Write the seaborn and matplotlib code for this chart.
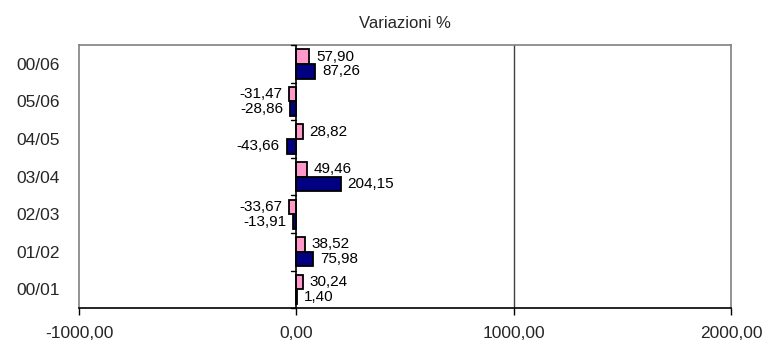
import pandas as pd
import matplotlib
matplotlib.use("Agg")
import matplotlib.pyplot as plt
import seaborn as sns

# periods, top to bottom as in the chart
periodi = ["00/06", "05/06", "04/05", "03/04", "02/03", "01/02", "00/01"]
serie_rosa = [57.90, -31.47, 28.82, 49.46, -33.67, 38.52, 30.24]
serie_blu = [87.26, -28.86, -43.66, 204.15, -13.91, 75.98, 1.40]
x_ticks = [-1000, 0, 1000, 2000]

df = pd.DataFrame({
    "periodo": periodi * 2,
    "serie": ["rosa"] * len(periodi) + ["blu"] * len(periodi),
    "valore": serie_rosa + serie_blu,
})

sns.set_style("white")
plt.rcParams["font.family"] = ["Liberation Sans", "DejaVu Sans"]

fig = plt.figure(figsize=(7.71, 3.47), dpi=100)
ax = fig.add_axes([0.1025, 0.112, 0.8455, 0.758])

sns.barplot(data=df, x="valore", y="periodo", hue="serie", order=periodi,
            hue_order=["rosa", "blu"], palette={"rosa": "#FF99CC", "blu": "#000080"},
            saturation=1, orient="h", width=0.78, edgecolor="black", linewidth=1.3,
            legend=False, ax=ax, zorder=3)

def fmt(v):
    return f"{v:.2f}".replace(".", ",")

for cont in ax.containers:
    ax.bar_label(cont, labels=[fmt(b.get_width()) for b in cont], padding=5,
                 fontsize=11, color="black")

ax.set_xlim(-1000, 2000)
ax.set_ylim(len(periodi) - 0.5, -0.5)
ax.set_xticks(x_ticks)
ax.set_xticklabels([fmt(t) for t in x_ticks], fontsize=12.5)
ax.tick_params(axis="x", direction="out", length=5, width=1, pad=8, bottom=True, color="black")
ax.tick_params(axis="y", length=0, pad=14, labelsize=12.5)
ax.set_xlabel("")
ax.set_ylabel("")

# vertical gridline at 1000 and zero axis with tick marks between categories
ax.axvline(1000, color="#404040", linewidth=1, zorder=1)
ax.axvline(0, color="black", linewidth=1.2, zorder=4)
for b in range(len(periodi) + 1):
    ax.plot([-25, 0], [b - 0.5, b - 0.5], color="black", linewidth=1, zorder=4, clip_on=False)

for side in ["top", "left", "right"]:
    ax.spines[side].set_color("#808080")
    ax.spines[side].set_linewidth(1.2)
ax.spines["bottom"].set_color("black")
ax.spines["bottom"].set_linewidth(1.2)

ax.set_title("Variazioni %", fontsize=12, pad=12)

fig.savefig("out.png", dpi=100)
